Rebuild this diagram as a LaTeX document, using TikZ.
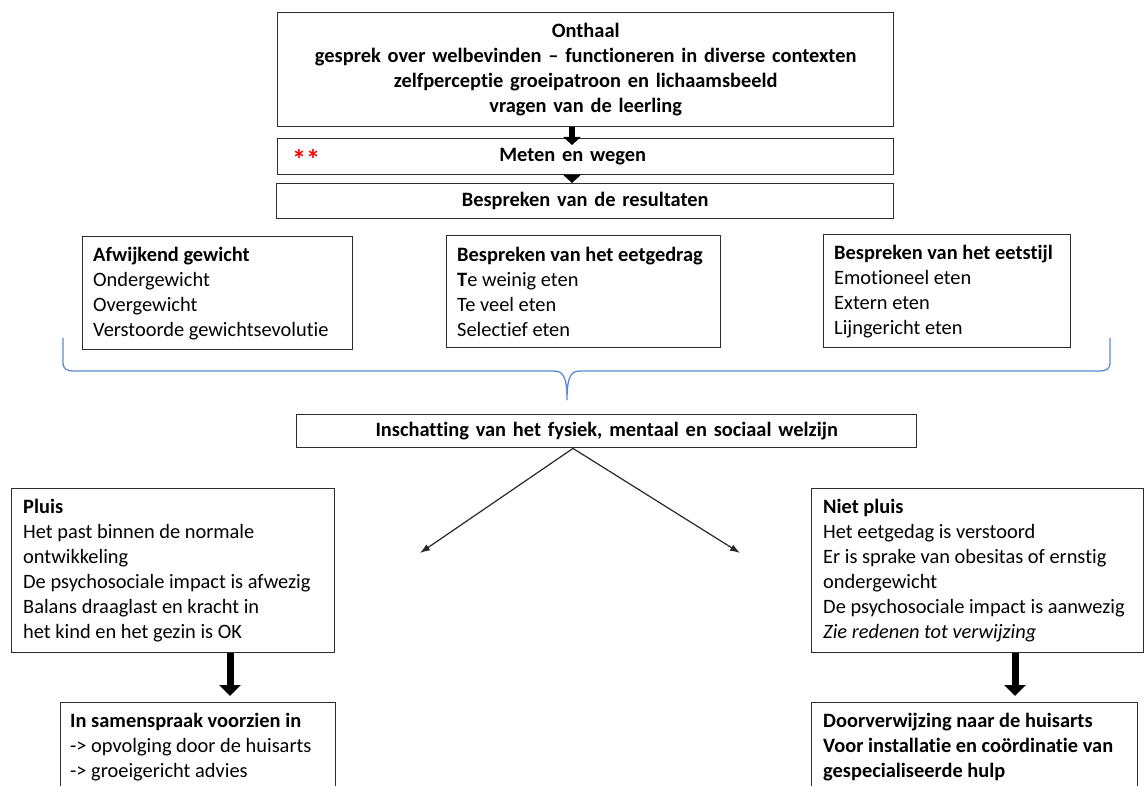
\documentclass[tikz,border=0pt]{standalone}
\usepackage{fontspec}
\setmainfont{Carlito}[Ligatures=NoCommon]
\usetikzlibrary{arrows.meta}
\definecolor{bracecol}{RGB}{95,138,210}
\definecolor{boxline}{RGB}{45,45,45}
\definecolor{arrowgray}{RGB}{40,40,40}
\begin{document}
\begin{tikzpicture}[x=1pt,y=-1pt,
  txt/.style={font=\fontsize{20.4}{25}\selectfont},
  box/.style={draw=boxline, line width=1.4pt, anchor=north west, inner ysep=0pt},
  cbox/.style={box, align=center, inner xsep=0pt, font=\fontsize{20.4}{25}\selectfont\bfseries},
  frame/.style={draw=boxline, line width=1.4pt, anchor=north west, inner sep=0pt},
  ltext/.style={txt, anchor=west, align=left, inner sep=0pt},
  thickA/.style={line width=6pt, black, -{Triangle[length=8pt,width=17pt]}},
  thickB/.style={line width=7pt, black, -{Triangle[length=11pt,width=21pt]}},
  thinA/.style={line width=1.2pt, arrowgray, -{Latex[length=10pt,width=7pt]}},
  bracestyle/.style={draw=bracecol, line width=1.3pt}
]
\path[use as bounding box, clip] (0,0) rectangle (1145,786);
\fill[white] (0,0) rectangle (1145,786);

% top stack
\node[cbox, text width=616pt, minimum height=114pt] (onthaal) at (277,12)
  {Onthaal\\gesprek over welbevinden – functioneren in diverse contexten\\zelfperceptie groeipatroon en lichaamsbeeld\\vragen van de leerling};
\node[cbox, text width=616pt, minimum height=36pt] (meten) at (277,138)
  {Meten en wegen\kern26pt};
\node[font=\fontsize{28}{28}\selectfont\bfseries, text=red, anchor=base, inner sep=0pt] (stars) at (306,170) {**};
\node[cbox, text width=617pt, minimum height=35pt] (bespr) at (276,183)
  {Bespreken van de resultaten};

\coordinate (xa) at (572,0);
\draw[thickA] (onthaal.south -| xa) -- ([yshift=-7pt]meten.north -| xa);
\draw[thickA] (meten.south -| xa) -- (bespr.north -| xa);

% three boxes
\node[frame, minimum width=270pt, minimum height=113pt] (afw) at (82,236) {};
\node[ltext] (afwT) at ([xshift=11pt]afw.west)
  {\textbf{Afwijkend gewicht}\\Ondergewicht\\Overgewicht\\Verstoorde gewichtsevolutie};
\node[frame, minimum width=274pt, minimum height=112pt] (gedrag) at (446,235) {};
\node[ltext] (gedragT) at ([xshift=11pt]gedrag.west)
  {\textbf{Bespreken van het eetgedrag}\\\textbf{T}e weinig eten\\Te veel eten\\Selectief eten};
\node[frame, minimum width=247pt, minimum height=113pt] (stijl) at (823,234) {};
\node[ltext] (stijlT) at ([xshift=11pt]stijl.west)
  {\textbf{Bespreken van het eetstijl}\\Emotioneel eten\\Extern eten\\Lijngericht eten};

% brace
\draw[bracestyle] (63,338) -- (63,362) .. controls (63,369) and (66,371) .. (75,371)
  -- (553,371) .. controls (562,371) and (567,374) .. (567,400)
  .. controls (567,374) and (572,371) .. (581,371)
  -- (1098,371) .. controls (1107,371) and (1110,369) .. (1110,362) -- (1110,338);

% assessment
\node[cbox, text width=620pt, minimum height=33pt] (insch) at (296,414)
  {Inschatting van het fysiek, mentaal en sociaal welzijn};
\coordinate (xi) at (573,0);
\coordinate (pl) at (420,553);
\coordinate (pr) at (740,553);
\draw[thinA] (insch.south -| xi) -- (pl);
\draw[thinA] (insch.south -| xi) -- (pr);

% outcome boxes
\node[frame, minimum width=323pt, minimum height=164pt] (pluis) at (11,488) {};
\node[ltext] (pluisT) at ([xshift=12pt]pluis.west)
  {\textbf{Pluis}\\Het past binnen de normale\\ontwikkeling\\De psychosociale impact is afwezig\\Balans draaglast en kracht in\\het kind en het gezin is OK};
\node[frame, minimum width=332pt, minimum height=164pt] (niet) at (811,488) {};
\node[ltext] (nietT) at ([xshift=12pt]niet.west)
  {\textbf{Niet pluis}\\Het eetgedag is verstoord\\Er is sprake van obesitas of ernstig\\ondergewicht\\De psychosociale impact is aanwezig\\\textit{Zie redenen tot verwijzing}};

\node[frame, minimum width=275pt, minimum height=111pt] (samen) at (60,702) {};
\node[ltext] (samenT) at ([xshift=10pt]samen.west)
  {\textbf{In samenspraak voorzien in}\\-> opvolging door de huisarts\\-> groeigericht advies\\\mbox{}};
\node[frame, minimum width=326pt, minimum height=111pt] (doorv) at (811,702) {};
\node[ltext] (doorvT) at ([xshift=12pt]doorv.west)
  {\textbf{Doorverwijzing naar de huisarts}\\\textbf{Voor installatie en coördinatie van}\\\textbf{gespecialiseerde hulp}\\\mbox{}};

\coordinate (xl) at (230,0);
\coordinate (xr) at (1015,0);
\draw[thickB] (pluis.south -| xl) -- ([yshift=6pt]samen.north -| xl);
\draw[thickB] (niet.south -| xr) -- ([yshift=6pt]doorv.north -| xr);
\end{tikzpicture}
\end{document}
